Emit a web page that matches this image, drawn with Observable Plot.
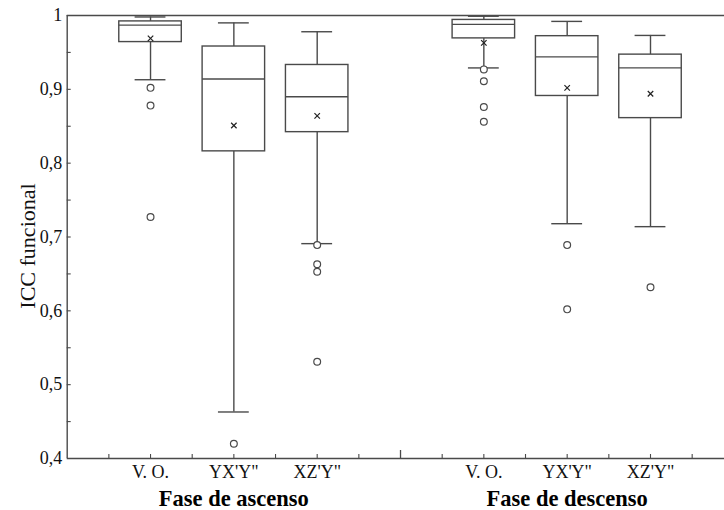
<!DOCTYPE html>
<html>
<head>
<meta charset="utf-8">
<script src="https://cdn.jsdelivr.net/npm/d3@7"></script>
<script src="https://cdn.jsdelivr.net/npm/@observablehq/plot@0.6"></script>
<style>
  html, body { margin: 0; padding: 0; background: #fff; }
  #chart svg { display: block; }
</style>
</head>
<body>
<div id="chart"></div>
<script>
// Category positions and labels
const positions = [1, 2, 3, 5, 6, 7];
const categories = ["V. O.", "YX'Y\"", "XZ'Y\"", "V. O.", "YX'Y\"", "XZ'Y\""];
const phasePositions = [2, 6];
const phases = ["Fase de ascenso", "Fase de descenso"];

// Box statistics
const upperWhisker = [0.998, 0.990, 0.978, 0.999, 0.992, 0.973];
const q3 = [0.992, 0.958, 0.933, 0.994, 0.972, 0.947];
const median = [0.987, 0.914, 0.890, 0.988, 0.944, 0.929];
const q1 = [0.964, 0.816, 0.842, 0.969, 0.891, 0.861];
const lowerWhisker = [0.913, 0.463, 0.691, 0.929, 0.718, 0.714];
const mean = [0.969, 0.851, 0.864, 0.963, 0.902, 0.894];

// Outliers (group index, value)
const outlierGroup = [0, 0, 0, 1, 2, 2, 2, 2, 3, 3, 3, 3, 4, 4, 5];
const outlierValue = [0.902, 0.878, 0.727, 0.420, 0.689, 0.663, 0.653, 0.531, 0.927, 0.911, 0.876, 0.856, 0.689, 0.602, 0.632];

// Axis ticks
const yLabelTicks = [0.4, 0.5, 0.6, 0.7, 0.8, 0.9, 1];
const yMinorTicks = [0.45, 0.5, 0.55, 0.6, 0.65, 0.7, 0.75, 0.8, 0.85, 0.9, 0.95];
const xMinorTicks = [0.5, 1, 1.5, 2, 2.5, 3, 3.5, 4.5, 5, 5.5, 6, 6.5, 7, 7.5];
const xMajorTicks = [4];

const boxes = positions.map((p, i) => ({
  pos: p, label: categories[i], lo: lowerWhisker[i], q1: q1[i], med: median[i],
  q3: q3[i], hi: upperWhisker[i], mean: mean[i]
}));
const outliers = outlierGroup.map((g, i) => ({pos: positions[g], value: outlierValue[i]}));
const phaseRows = phases.map((t, i) => ({pos: phasePositions[i], text: t}));

const boxHalf = 0.375;
const capHalf = 0.185;
const ink = "#4a4a4a";
const sw = 1.4;
const fmt = d => d === 1 ? "1" : d3.format(".1f")(d).replace(".", ",");

const chart = Plot.plot({
  width: 724,
  height: 510,
  marginLeft: 66.7,
  marginRight: 0,
  marginTop: 15,
  marginBottom: 52,
  style: {fontFamily: "'Liberation Serif', 'Times New Roman', serif", background: "#fff", color: "#000"},
  x: {domain: [0, 7.888], axis: null},
  y: {domain: [0.4, 1], axis: null},
  marks: [
    // frame lines
    Plot.ruleX([0], {stroke: ink, strokeWidth: sw}),
    Plot.ruleY([1], {stroke: ink, strokeWidth: sw}),
    Plot.ruleY([0.4], {stroke: ink, strokeWidth: sw}),
    // y axis inward ticks and labels
    Plot.axisY({ticks: yMinorTicks, tickSize: -4, tickFormat: () => "", label: null, stroke: ink, strokeWidth: 1.1}),
    Plot.axisY({ticks: yLabelTicks, tickSize: 0, tickPadding: 5, tickFormat: fmt, label: null, fontSize: 18, fill: "#111"}),
    // x axis inward ticks and labels
    Plot.axisX({ticks: xMinorTicks, tickSize: -4, tickFormat: () => "", label: null, stroke: ink, strokeWidth: 1.1}),
    Plot.axisX({ticks: xMajorTicks, tickSize: -8, tickFormat: () => "", label: null, stroke: ink, strokeWidth: 1.3}),
    Plot.axisX({ticks: positions, tickSize: 0, tickPadding: 7, fontSize: 18, fill: "#111",
      tickFormat: (d) => categories[positions.indexOf(d)], label: null}),
    // phase labels
    Plot.text(phaseRows, {x: "pos", text: "text", frameAnchor: "bottom", lineAnchor: "bottom", dy: 47,
      fontSize: 22.5, fontWeight: "bold", fill: "#000"}),
    // y label
    Plot.text(["ICC funcional"], {frameAnchor: "left", textAnchor: "middle", rotate: -90, dx: -39, dy: 9,
      fontSize: 22, fill: "#111", text: d => d}),
    // whiskers
    Plot.ruleX(boxes, {x: "pos", y1: "q3", y2: "hi", stroke: ink, strokeWidth: sw}),
    Plot.ruleX(boxes, {x: "pos", y1: "lo", y2: "q1", stroke: ink, strokeWidth: sw}),
    // caps
    Plot.ruleY(boxes, {y: "hi", x1: d => d.pos - capHalf, x2: d => d.pos + capHalf, stroke: ink, strokeWidth: sw}),
    Plot.ruleY(boxes, {y: "lo", x1: d => d.pos - capHalf, x2: d => d.pos + capHalf, stroke: ink, strokeWidth: sw}),
    // boxes
    Plot.rect(boxes, {x1: d => d.pos - boxHalf, x2: d => d.pos + boxHalf, y1: "q1", y2: "q3",
      fill: "#fff", stroke: ink, strokeWidth: sw}),
    // medians
    Plot.ruleY(boxes, {y: "med", x1: d => d.pos - boxHalf, x2: d => d.pos + boxHalf, stroke: ink, strokeWidth: sw}),
    // means
    Plot.dot(boxes, {x: "pos", y: "mean", symbol: "times", r: 2.6, stroke: "#222", strokeWidth: 1.2}),
    // outliers
    Plot.dot(outliers, {x: "pos", y: "value", r: 3.4, fill: "#fff", stroke: ink, strokeWidth: 1.2})
  ]
});
document.getElementById("chart").appendChild(chart);
</script>
</body>
</html>
